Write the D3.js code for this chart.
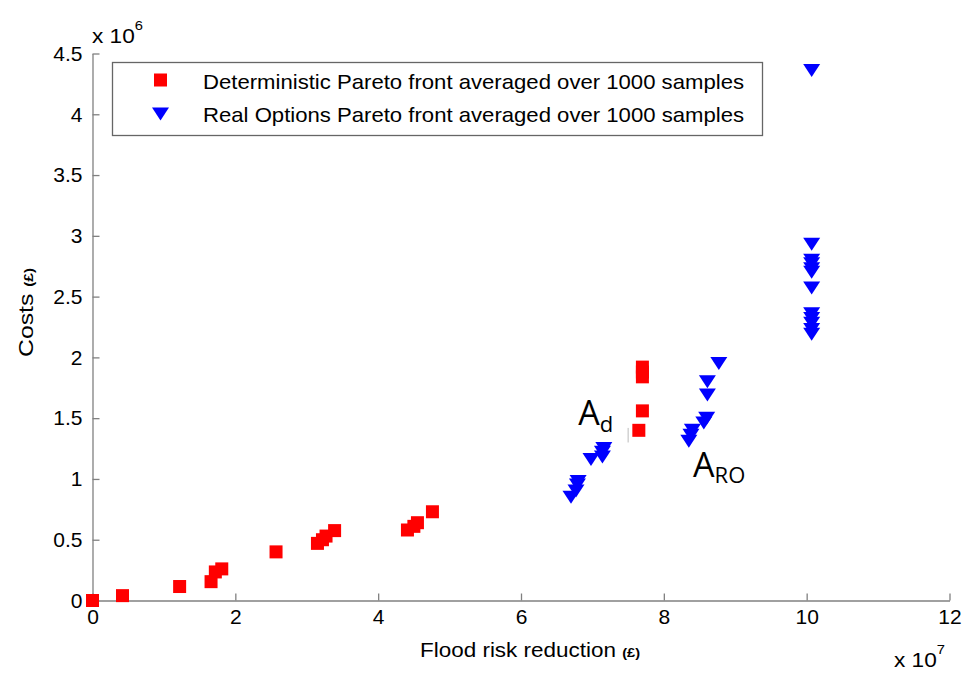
<!DOCTYPE html>
<html>
<head>
<meta charset="utf-8">
<script src="https://cdn.jsdelivr.net/npm/d3@7"></script>
<style>
  body { margin: 0; background: #fff; }
  svg { display: block; }
  text { font-family: "Liberation Sans", Arial, sans-serif; fill: #000; }
</style>
</head>
<body>
<svg id="chart" width="969" height="675"></svg>
<script>
// values in axis units: x in 1e7 GBP, y in 1e6 GBP
const detX = [0, 0.42, 1.22, 1.66, 1.72, 1.81, 2.57, 3.15, 3.22, 3.27, 3.39, 4.41, 4.50, 4.55, 4.76, 7.65, 7.70, 7.70, 7.70, 7.70];
const detY = [0, 0.04, 0.115, 0.155, 0.235, 0.26, 0.40, 0.47, 0.50, 0.53, 0.575, 0.58, 0.61, 0.64, 0.73, 1.40, 1.56, 1.84, 1.88, 1.92];

const roX = [6.70, 6.77, 6.79, 6.80, 6.98, 7.14, 7.14, 7.16, 8.35, 8.38, 8.40, 8.56, 8.60, 8.61, 8.61, 8.77,
             10.07, 10.07, 10.07, 10.07, 10.07, 10.07, 10.07, 10.07, 10.07, 10.07, 10.07, 10.07];
const roY = [0.85, 0.90, 0.95, 0.98, 1.16, 1.18, 1.22, 1.25, 1.31, 1.36, 1.40, 1.46, 1.50, 1.69, 1.80, 1.95,
             2.19, 2.23, 2.28, 2.32, 2.36, 2.57, 2.70, 2.73, 2.77, 2.80, 2.93, 4.36];

const xTicks = [0, 2, 4, 6, 8, 10, 12];
const yTicks = [0, 0.5, 1, 1.5, 2, 2.5, 3, 3.5, 4, 4.5];

const legendLabels = [
    "Deterministic Pareto front averaged over 1000 samples",
    "Real Options Pareto front averaged over 1000 samples"
];

// annotations: [label, subscript, x, y]
const notes = [["A", "d", 6.80, 1.44], ["A", "RO", 8.41, 1.016]];
const strayMark = [7.50, 1.30, 1.42];

const AXIS = "#808080";
const svg = d3.select("#chart");

const x = d3.scaleLinear().domain([0, 12]).range([92.5, 949.5]);
const y = d3.scaleLinear().domain([0, 4.5]).range([600.5, 53.5]);

const fmt = d => String(d);

let gx = svg.append("g")
    .attr("transform", "translate(0,600.5)")
    .call(d3.axisBottom(x).tickValues(xTicks).tickFormat(fmt).tickSize(-7).tickSizeOuter(0).tickPadding(9));
let gy = svg.append("g")
    .attr("transform", "translate(92.5,0)")
    .call(d3.axisLeft(y).tickValues(yTicks).tickFormat(fmt).tickSize(-7).tickSizeOuter(0).tickPadding(10));

[gx, gy].forEach(g => {
    g.select(".domain").attr("stroke", AXIS).attr("stroke-width", 1.3);
    g.selectAll(".tick line").attr("stroke", AXIS).attr("stroke-width", 1.3);
    g.selectAll(".tick text")
        .attr("fill", "#000")
        .style("font-family", "'Liberation Sans', Arial, sans-serif")
        .style("font-size", "21px");
});

// exponent labels
function expLabel(px, py, pow) {
    let t = svg.append("text").attr("x", px).attr("y", py)
        .attr("textLength", 51).attr("lengthAdjust", "spacingAndGlyphs")
        .style("font-size", "20px");
    t.append("tspan").text("x 10");
    t.append("tspan").attr("dy", -13).style("font-size", "13px").text(pow);
}
expLabel(92, 43, "6");
expLabel(894, 667, "7");

// axis titles
let xl = svg.append("text")
    .attr("x", 420).attr("y", 657)
    .attr("textLength", 220).attr("lengthAdjust", "spacingAndGlyphs")
    .style("font-size", "20px");
xl.append("tspan").text("Flood risk reduction ");
xl.append("tspan").style("font-size", "13px").style("font-weight", "bold").text("(£)");

let yl = svg.append("text")
    .attr("transform", "translate(33,357) rotate(-90)")
    .attr("textLength", 89).attr("lengthAdjust", "spacingAndGlyphs")
    .style("font-size", "21px");
yl.append("tspan").text("Costs ");
yl.append("tspan").style("font-size", "13px").style("font-weight", "bold").text("(£)");

// stray mark from the original figure
svg.append("line")
    .attr("x1", x(strayMark[0])).attr("x2", x(strayMark[0]))
    .attr("y1", y(strayMark[1])).attr("y2", y(strayMark[2]))
    .attr("stroke", "#bbb").attr("stroke-width", 1);

const sq = 13;
const tri = (cx, cy) => {
    const w = 8.5, h = 6.5;
    return `M${cx - w},${cy - h}L${cx + w},${cy - h}L${cx},${cy + h}Z`;
};

// deterministic front
svg.append("g").selectAll("rect")
    .data(detX.map((d, i) => [d, detY[i]]))
    .join("rect")
    .attr("x", d => x(d[0]) - sq / 2)
    .attr("y", d => y(d[1]) - sq / 2)
    .attr("width", sq).attr("height", sq)
    .attr("fill", "#ff0000");

// real options front
svg.append("g").selectAll("path")
    .data(roX.map((d, i) => [d, roY[i]]))
    .join("path")
    .attr("d", d => tri(x(d[0]), y(d[1])))
    .attr("fill", "#0000ff");

// annotations
notes.forEach(n => {
    let t = svg.append("text")
        .attr("x", x(n[2])).attr("y", y(n[3]))
        .style("font-family", "'Open Sans', sans-serif")
        .style("font-size", "34px");
    t.append("tspan").text(n[0]);
    t.append("tspan").attr("dy", 6.5).style("font-size", "22px").text(n[1]);
});

// legend
let lg = svg.append("g");
lg.append("rect")
    .attr("x", 112.5).attr("y", 62.5)
    .attr("width", 650).attr("height", 73)
    .attr("fill", "#fff").attr("stroke", "#666").attr("stroke-width", 1.3);
lg.append("rect")
    .attr("x", 160.5 - sq / 2).attr("y", 80 - sq / 2)
    .attr("width", sq).attr("height", sq).attr("fill", "#ff0000");
lg.append("path").attr("d", tri(160.5, 114)).attr("fill", "#0000ff");
legendLabels.forEach((s, i) => {
    lg.append("text")
        .attr("x", 203).attr("y", 89 + i * 33)
        .attr("textLength", 541).attr("lengthAdjust", "spacingAndGlyphs")
        .style("font-size", "21px")
        .text(s);
});
</script>
</body>
</html>
